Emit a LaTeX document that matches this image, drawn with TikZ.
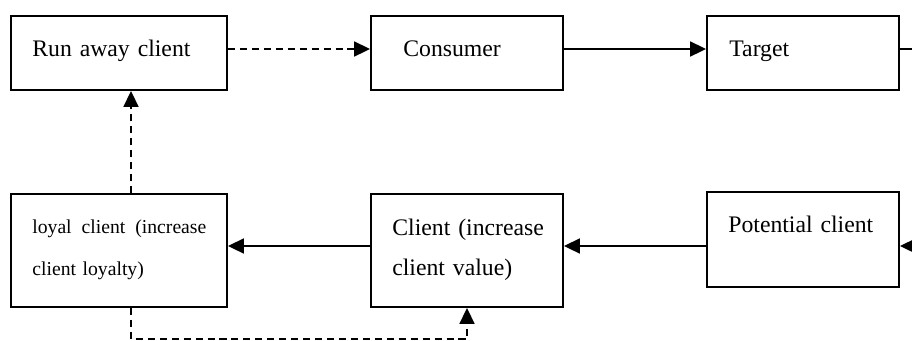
\documentclass[tikz,border=0pt]{standalone}
\usepackage{fontspec}
\setmainfont{Liberation Serif}
\usetikzlibrary{arrows.meta, positioning}

\begin{document}
\begin{tikzpicture}[>={Triangle[length=9pt, width=8.5pt]},
    box/.style={draw, line width=1.1pt, minimum width=3.84cm, minimum height=1.48cm, inner sep=0pt},
    txt/.style={anchor=base west, inner sep=0pt, text width=3.6cm, align=left,
        font=\fontsize{13.5pt}{23.3pt}\selectfont},
    link/.style={line width=0.9pt},
    dlink/.style={line width=0.9pt, dash pattern=on 4pt off 2.8pt}]
    \useasboundingbox (0,0) rectangle (18.24,-6.8);

    % Top row
    \draw (2.38,-1.06) node[box, minimum width=4.32cm] (RUN) {};
    \draw (9.34,-1.06) node[box] (CONS) {};
    \draw (16.06,-1.06) node[box] (TARGET) {};
    \node[txt] (RUNtxt) at (0.64,-1.12) {Run away client};
    \node[txt] (CONStxt) at (8.06,-1.12) {Consumer};
    \node[txt] (TARGETtxt) at (14.58,-1.12) {Target};

    % Bottom row
    \draw (2.38,-5.01) node[box, minimum width=4.32cm, minimum height=2.26cm] (LOYAL) {};
    \draw (9.34,-5.01) node[box, minimum height=2.26cm] (CLIENT) {};
    \draw (16.06,-4.79) node[box, minimum height=1.9cm] (POT) {};
    \node[txt, font=\fontsize{11.2pt}{24.4pt}\selectfont] (LOYALtxt) at (0.64,-4.66)
        {\makebox[3.48cm][l]{loyal\hfill client\hfill (increase}\\client loyalty)};
    \node[txt] (CLIENTtxt) at (7.84,-4.70) {Client (increase\\client value)};
    \node[txt] (POTtxt) at (14.56,-4.64) {Potential client};

    % Loose ends at the right edge
    \coordinate (TOUT) at (18.24,-0.98);
    \coordinate (PIN) at (18.24,-4.92);

    % Top arrows
    \draw[dlink, ->] ([yshift=0.08cm]RUN.east) -- ([yshift=0.08cm]CONS.west);
    \draw[link, ->] ([yshift=0.08cm]CONS.east) -- ([yshift=0.08cm]TARGET.west);
    \draw[link] ([yshift=0.08cm]TARGET.east) -- (TOUT);

    % Bottom arrows
    \draw[link, ->] (PIN) -- ([yshift=-0.13cm]POT.east);
    \draw[link, ->] ([yshift=-0.13cm]POT.west) -- ([yshift=0.09cm]CLIENT.east);
    \draw[link, ->] ([yshift=0.09cm]CLIENT.west) -- ([yshift=0.09cm]LOYAL.east);

    % Dashed loops
    \draw[dlink, ->] ([xshift=0.24cm]LOYAL.north) -- ([xshift=0.24cm]RUN.south);
    \draw[dlink, ->] ([xshift=0.24cm]LOYAL.south) -- ++(0,-0.62) -| (CLIENT.south);
  \end{tikzpicture}
\end{document}
